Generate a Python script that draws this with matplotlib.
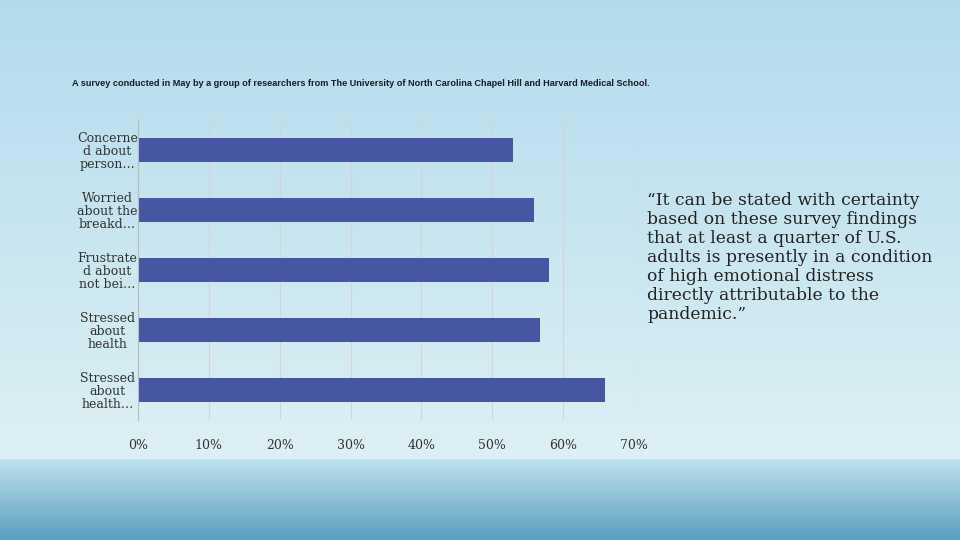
import matplotlib
matplotlib.use("Agg")
import matplotlib.pyplot as plt
import numpy as np

categories = ["Concerne\nd about\nperson…", "Worried\nabout the\nbreakd…", "Frustrate\nd about\nnot bei…",
              "Stressed\nabout\nhealth", "Stressed\nabout\nhealth…"]
values = [52.9, 55.9, 58.0, 56.8, 65.9]
ticks = [0, 10, 20, 30, 40, 50, 60, 70]
tick_labels = [f"{t}%" for t in ticks]

fig = plt.figure(figsize=(9.6, 5.4), dpi=100)
bg = fig.add_axes([0, 0, 1, 1], zorder=-10)
h = 540
top = np.array([0.70, 0.86, 0.92]); mid = np.array([0.87, 0.94, 0.96])
grad = np.zeros((h, 1, 3))
for i in range(h):
    t = i / h
    if t < 0.85:
        grad[i, 0] = top + (mid - top) * (t / 0.85)
    else:
        s = (t - 0.85) / 0.15
        grad[i, 0] = np.array([0.75, 0.88, 0.93]) * (1 - s) + np.array([0.35, 0.62, 0.75]) * s
bg.imshow(grad, aspect="auto", extent=[0, 1, 0, 1])
bg.axis("off")

ax = fig.add_axes([138/960, 1-420/540, (634-138)/960, (420-120)/540])
ax.patch.set_alpha(0)
y = np.arange(len(categories))
ax.barh(y, values, height=0.4, color="#4656a2")
ax.set_ylim(len(categories) - 0.5, -0.5)
ax.set_xlim(0, 70)
ax.set_xticks(ticks)
ax.set_xticklabels(tick_labels, family="DejaVu Serif", fontsize=9, color="#333333")
ax.set_yticks(y)
ax.set_yticklabels(categories, family="DejaVu Serif", fontsize=9, color="#333333", linespacing=1.0)
for l in ax.get_yticklabels():
    l.set_horizontalalignment("center")
ax.tick_params(axis="y", length=0, pad=22)
ax.tick_params(axis="x", length=0, pad=14)
ax.grid(axis="x", color="#d4d4d4", linewidth=0.8)
ax.set_axisbelow(True)
for s in ["top", "right", "bottom"]:
    ax.spines[s].set_visible(False)
ax.spines["left"].set_color("#bbbbbb")

title = fig.text(72/960, 1-84/540, "A survey conducted in May by a group of researchers from The University of North Carolina Chapel Hill and Harvard Medical School.",
                 family="Liberation Sans", fontsize=10, color="#1a1a2a", va="center", weight="bold")
r = fig.canvas.get_renderer()
w = title.get_window_extent(r).width
title.set_fontsize(10 * 576 / w)

fig.text(647/960, 1-192/540, "“It can be stated with certainty\nbased on these survey findings\nthat at least a quarter of U.S.\nadults is presently in a condition\nof high emotional distress\ndirectly attributable to the\npandemic.”",
         family="DejaVu Serif", fontsize=12.3, color="#222222", va="top", linespacing=1.15)
fig.savefig("out.png", dpi=100)
